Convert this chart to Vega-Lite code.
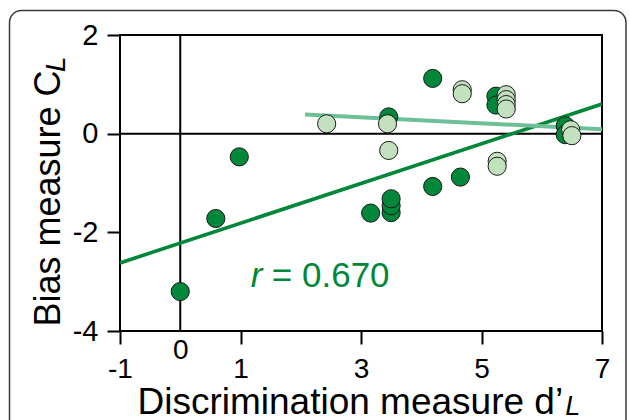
{
  "$schema": "https://vega.github.io/schema/vega-lite/v6.json",
  "width": 482,
  "height": 296,
  "autosize": {"type": "none"},
  "padding": {"left": 120, "top": 35, "right": 27, "bottom": 89},
  "background": "white",
  "config": {
    "view": {"stroke": "black", "strokeWidth": 2},
    "font": "Liberation Sans"
  },
  "datasets": {
    "points": [
      {"d": 0.0, "c": -3.2, "group": "dark"},
      {"d": 0.59, "c": -1.72, "group": "dark"},
      {"d": 0.98, "c": -0.47, "group": "dark"},
      {"d": 3.16, "c": -1.61, "group": "dark"},
      {"d": 3.5, "c": -1.6, "group": "dark"},
      {"d": 3.5, "c": -1.46, "group": "dark"},
      {"d": 3.5, "c": -1.32, "group": "dark"},
      {"d": 3.46, "c": 0.34, "group": "dark"},
      {"d": 4.19, "c": 1.12, "group": "dark"},
      {"d": 4.19, "c": -1.07, "group": "dark"},
      {"d": 4.65, "c": -0.88, "group": "dark"},
      {"d": 5.24, "c": 0.76, "group": "dark"},
      {"d": 5.24, "c": 0.58, "group": "dark"},
      {"d": 6.39, "c": 0.16, "group": "dark"},
      {"d": 6.39, "c": -0.02, "group": "dark"},
      {"d": 2.43, "c": 0.2, "group": "light"},
      {"d": 3.44, "c": 0.2, "group": "light"},
      {"d": 3.46, "c": -0.34, "group": "light"},
      {"d": 4.68, "c": 0.89, "group": "light"},
      {"d": 4.68, "c": 0.81, "group": "light"},
      {"d": 5.26, "c": -0.56, "group": "light"},
      {"d": 5.26, "c": -0.66, "group": "light"},
      {"d": 5.41, "c": 0.79, "group": "light"},
      {"d": 5.41, "c": 0.69, "group": "light"},
      {"d": 5.41, "c": 0.59, "group": "light"},
      {"d": 5.41, "c": 0.5, "group": "light"},
      {"d": 6.48, "c": 0.08, "group": "light"},
      {"d": 6.5, "c": -0.04, "group": "light"}
    ],
    "fits": [
      {"d": -1, "c": -2.62, "group": "dark"},
      {"d": 7, "c": 0.6, "group": "dark"},
      {"d": 2.07, "c": 0.39, "group": "light"},
      {"d": 7, "c": 0.09, "group": "light"}
    ],
    "one": [{"k": 1}]
  },
  "layer": [
    {
      "data": {"name": "one"},
      "mark": {"type": "rect", "fill": null, "fillOpacity": 0, "stroke": "#3a3a3a", "strokeWidth": 1.5, "cornerRadius": 12, "clip": false},
      "encoding": {
        "x": {"datum": -2.834, "type": "quantitative"},
        "x2": {"datum": 7.398},
        "y": {"datum": 2.497, "type": "quantitative"},
        "y2": {"datum": -6.6}
      }
    },
    {
      "data": {"name": "one"},
      "mark": {"type": "rule", "color": "black", "strokeWidth": 2},
      "encoding": {"x": {"datum": 0, "type": "quantitative"}}
    },
    {
      "data": {"name": "one"},
      "mark": {"type": "rule", "color": "black", "strokeWidth": 2},
      "encoding": {"y": {"datum": 0, "type": "quantitative"}}
    },
    {
      "data": {"name": "fits"},
      "mark": {"type": "line", "clip": true},
      "encoding": {
        "x": {"field": "d", "type": "quantitative"},
        "y": {"field": "c", "type": "quantitative"},
        "detail": {"field": "group"},
        "color": {"field": "group", "type": "nominal", "scale": {"domain": ["dark", "light"], "range": ["#00873A", "#6DBF97"]}, "legend": null},
        "strokeWidth": {"field": "group", "type": "nominal", "scale": {"domain": ["dark", "light"], "range": [3.6, 4]}, "legend": null}
      }
    },
    {
      "data": {"name": "points"},
      "mark": {"type": "circle", "size": 330, "opacity": 1, "stroke": "#1a1a1a", "strokeWidth": 1},
      "encoding": {
        "x": {
          "field": "d", "type": "quantitative",
          "scale": {"domain": [-1, 7], "nice": false, "zero": false},
          "axis": {
            "values": [-1, 0, 1, 3, 5, 7],
            "labelExpr": "'' + datum.value", "labelOverlap": false, "labelFlush": false,
            "grid": false, "domain": false,
            "tickSize": 13, "tickWidth": 2, "tickColor": "black",
            "tickOpacity": {"condition": {"test": "datum.value === 0", "value": 0}, "value": 1},
            "labelPadding": {"condition": {"test": "datum.value === 0", "value": -8}, "value": 11},
            "labelFontSize": 28, "labelColor": "black", "labelFont": "Liberation Sans",
            "title": "Discrimination measure d’",
            "titleFont": "Liberation Sans", "titleFontSize": 37, "titleFontWeight": "normal", "titleColor": "black",
            "titleAnchor": "start", "titleAlign": "left", "titleBaseline": "alphabetic",
            "titleX": 17, "titleY": 82
          }
        },
        "y": {
          "field": "c", "type": "quantitative",
          "scale": {"domain": [-4, 2], "nice": false, "zero": false},
          "axis": {
            "values": [-4, -2, 0, 2],
            "labelExpr": "'' + datum.value", "labelOverlap": false, "labelFlush": false,
            "grid": false, "domain": false,
            "tickSize": 13, "tickWidth": 2, "tickColor": "black",
            "labelPadding": 9, "labelFontSize": 29, "labelColor": "black", "labelFont": "Liberation Sans",
            "title": "Bias measure C",
            "titleFont": "Liberation Sans", "titleFontSize": 36, "titleFontWeight": "normal", "titleColor": "black",
            "titleAngle": 270, "titleAnchor": "start", "titleAlign": "left", "titleBaseline": "alphabetic",
            "titleX": -61, "titleY": 291
          }
        },
        "fill": {"field": "group", "type": "nominal", "scale": {"domain": ["dark", "light"], "range": ["#00873A", "#C4E1BF"]}, "legend": null}
      }
    },
    {
      "data": {"name": "one"},
      "mark": {"type": "text", "text": "r", "fontStyle": "italic", "fontSize": 35, "color": "#00873A", "align": "left", "baseline": "alphabetic", "clip": false},
      "encoding": {"x": {"datum": 1.17, "type": "quantitative"}, "y": {"datum": -3.1, "type": "quantitative"}}
    },
    {
      "data": {"name": "one"},
      "mark": {"type": "text", "text": "= 0.670", "fontSize": 35, "color": "#00873A", "align": "left", "baseline": "alphabetic", "clip": false},
      "encoding": {"x": {"datum": 1.52, "type": "quantitative"}, "y": {"datum": -3.1, "type": "quantitative"}}
    },
    {
      "data": {"name": "one"},
      "mark": {"type": "text", "text": "L", "fontStyle": "italic", "fontSize": 28, "color": "black", "align": "left", "baseline": "alphabetic", "angle": 270, "clip": false},
      "encoding": {"x": {"datum": -1.913, "type": "quantitative"}, "y": {"datum": 1.25, "type": "quantitative"}}
    },
    {
      "data": {"name": "one"},
      "mark": {"type": "text", "text": "L", "fontStyle": "italic", "fontSize": 27, "color": "black", "align": "left", "baseline": "alphabetic", "clip": false},
      "encoding": {"x": {"datum": 6.39, "type": "quantitative"}, "y": {"datum": -5.7, "type": "quantitative"}}
    }
  ]
}
